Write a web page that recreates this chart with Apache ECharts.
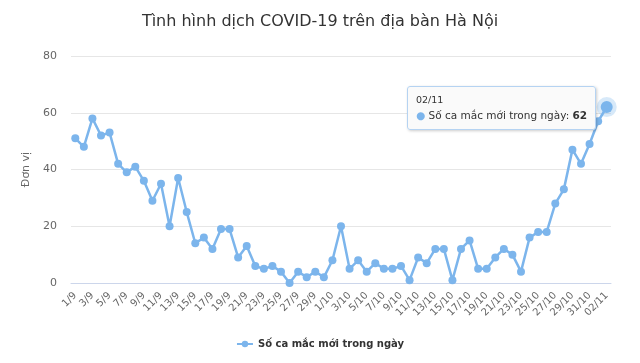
<!DOCTYPE html>
<html>
<head>
<meta charset="utf-8">
<script src="https://cdn.jsdelivr.net/npm/echarts@6/dist/echarts.min.js"></script>
<style>html,body{margin:0;padding:0;background:#fff;}#c{width:640px;height:363px;}</style>
</head>
<body>
<div id="c"></div>
<script>
const sepDays = ['1/9','2/9','3/9','4/9','5/9','6/9','7/9','8/9','9/9','10/9','11/9','12/9','13/9','14/9','15/9','16/9','17/9','18/9','19/9','20/9','21/9','22/9','23/9','24/9','25/9','26/9','27/9','28/9','29/9','30/9'];
const octDays = ['1/10','2/10','3/10','4/10','5/10','6/10','7/10','8/10','9/10','10/10','11/10','12/10','13/10','14/10','15/10','16/10','17/10','18/10','19/10','20/10','21/10','22/10','23/10','24/10','25/10','26/10','27/10','28/10','29/10','30/10','31/10'];
const novDays = ['01/11','02/11'];
const categories = sepDays.concat(octDays, novDays);
const sepCases = [51,48,58,52,53,42,39,41,36,29,35,20,37,25,14,16,12,19,19,9,13,6,5,6,4,0,4,2,4,2];
const octCases = [8,20,5,8,4,7,5,5,6,1,9,7,12,12,1,12,15,5,5,9,12,10,4,16,18,18,28,33,47,42,49];
const novCases = [57,62];
const cases = sepCases.concat(octCases, novCases);
const seriesName = 'Số ca mắc mới trong ngày';
const yTicks = [0,20,40,60,80];

const FONT = '"DejaVu Sans", Verdana, sans-serif';
const chart = echarts.init(document.getElementById('c'), null, {renderer:'canvas'});
const lastIdx = cases.length - 1;
const seriesData = cases.map((v,i)=> i===lastIdx ? {value:v, symbolSize:12, itemStyle:{borderColor:'rgba(124,181,236,0.3)', borderWidth:8}} : v);

chart.setOption({
  animation:false,
  title:{text:'Tình hình dịch COVID-19 trên địa bàn Hà Nội', left:'center', top:9,
    textStyle:{fontFamily:FONT, fontSize:16, fontWeight:'normal', color:'#333'}},
  grid:{left:71, right:29, top:56, bottom:80},
  tooltip:{trigger:'item', alwaysShowContent:true, position:[407,86],
    backgroundColor:'rgba(250,250,250,0.95)', borderColor:'#b5d3f2', borderWidth:1, padding:[6,8],
    extraCssText:'box-shadow:1px 1px 3px rgba(0,0,0,0.2);border-radius:3px;',
    formatter:function(p){return '<div style="font-family:DejaVu Sans;font-size:9.5px;color:#333;line-height:14px">'+categories[p.dataIndex]+'</div>'+
      '<div style="font-family:DejaVu Sans;font-size:10.5px;color:#333;line-height:16px"><span style="color:#7cb5ec">●</span> '+p.seriesName+': <b>'+p.value+'</b></div>';}},
  legend:{bottom:9, left:'center', itemWidth:16, itemHeight:8,
    textStyle:{fontFamily:FONT, fontSize:10, fontWeight:'bold', color:'#333'}},
  xAxis:{type:'category', data:categories, boundaryGap:true,
    axisLine:{lineStyle:{color:'#ccd6eb'}}, axisTick:{show:false},
    axisLabel:{interval:1, rotate:45, margin:11, color:'#666', fontFamily:FONT, fontSize:10}},
  yAxis:{type:'value', min:0, max:80, interval:20, name:'Đơn vị', nameLocation:'middle', nameGap:32,
    nameTextStyle:{color:'#666', fontFamily:FONT, fontSize:11},
    axisLabel:{color:'#666', fontFamily:FONT, fontSize:11, margin:14},
    splitLine:{lineStyle:{color:'#e6e6e6'}}},
  series:[{name:seriesName, type:'line', data:seriesData, symbol:'circle', symbolSize:8, showAllSymbol:true,
    lineStyle:{color:'#7cb5ec', width:2.5}, itemStyle:{color:'#7cb5ec'},
    emphasis:{scale:false}}]
});
chart.dispatchAction({type:'showTip', seriesIndex:0, dataIndex:lastIdx});
</script>
</body>
</html>
